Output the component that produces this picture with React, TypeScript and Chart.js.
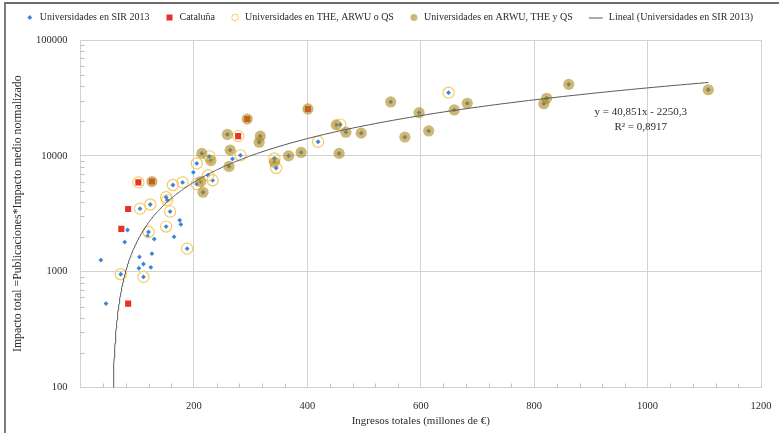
import React, { useEffect, useRef } from 'react';
import { Chart, registerables } from 'chart.js';

Chart.register(...registerables);

// ---------- Data ----------
const legendLabels = [
  'Universidades en SIR 2013',
  'Cataluña',
  'Universidades en THE, ARWU o QS',
  'Universidades en ARWU, THE y QS',
  'Lineal (Universidades en SIR 2013)',
];

// SIR-only universities (blue markers, not in rankings)
const sirOnlyX = [199, 268, 175, 177, 83, 118, 130, 78, 165, 36, 104, 126, 111, 124, 103, 45];
const sirOnlyY = [7200, 9400, 2780, 2560, 2290, 2030, 1910, 1800, 2000, 1260, 1340, 1430, 1165, 1090, 1070, 530];

// Universities in THE, ARWU or QS (open rings)
const ringX = [102, 163, 180, 151, 153, 105, 123, 158, 151, 120, 188, 71, 111, 205, 227, 282, 278, 342, 345, 225, 233, 205, 419, 458, 649];
const ringY = [5900, 5600, 5900, 4400, 4150, 3500, 3800, 3300, 2450, 2200, 1580, 950, 900, 8600, 9900, 10100, 14800, 9500, 7850, 6800, 6150, 5700, 13200, 18600, 35100];

// Universities in ARWU, THE and QS (filled tan circles)
const tanX = [126, 294, 401, 259, 317, 315, 264, 214, 230, 262, 342, 367, 389, 212, 216, 451, 468, 495, 456, 547, 572, 597, 614, 659, 682, 822, 817, 861, 1107];
const tanY = [6000, 20800, 25400, 15300, 14800, 13100, 11200, 10500, 9100, 8100, 8800, 10000, 10700, 6000, 4850, 18500, 16000, 15700, 10500, 29200, 14500, 23600, 16400, 24900, 28400, 31400, 28200, 41400, 37200];

// Cataluña (red squares)
const catX = [84, 72, 84, 102, 126, 278, 294, 401];
const catY = [3480, 2340, 530, 5900, 6000, 14800, 20800, 25400];

// Linear trendline printed on the chart
const TREND_SLOPE = 40.851;
const TREND_INTERCEPT = -2250.3;
const TREND_X_START = 55.5;
const TREND_X_END = 1107;
const trendLabelLines = ['y = 40,851x - 2250,3', 'R² = 0,8917'];
const TREND_LABEL_X = 988;
const TREND_LABEL_Y = 24000;

const xTickValues = [0, 200, 400, 600, 800, 1000, 1200];
const yTickValues = [100, 1000, 10000, 100000];

// ---------- Styles ----------
const FONT = '"Liberation Serif", "Times New Roman", serif';
const BLUE = '#3a86d6';
const RED = '#e8312a';
const RING = '#f6cb66';
const TAN = 'rgba(168,132,20,0.58)';
const LINE = '#5a5a5a';
const GRID = '#d2d2d2';
const TEXT = '#2b2b2b';

const toPts = (xs: number[], ys: number[]) => xs.map((x, i) => ({ x, y: ys[i] }));

function buildTrend() {
  const pts: { x: number; y: number }[] = [];
  let x = TREND_X_START;
  while (x < TREND_X_END) {
    pts.push({ x, y: TREND_SLOPE * x + TREND_INTERCEPT });
    x += x < 120 ? 0.5 : x < 300 ? 2 : 10;
  }
  pts.push({ x: TREND_X_END, y: TREND_SLOPE * TREND_X_END + TREND_INTERCEPT });
  return pts;
}

function drawMarker(ctx: CanvasRenderingContext2D, idx: number, cx: number, cy: number) {
  ctx.save();
  if (idx === 0) {
    const r = 2.4;
    ctx.fillStyle = BLUE;
    ctx.beginPath();
    ctx.moveTo(cx, cy - r);
    ctx.lineTo(cx + r, cy);
    ctx.lineTo(cx, cy + r);
    ctx.lineTo(cx - r, cy);
    ctx.closePath();
    ctx.fill();
  } else if (idx === 1) {
    ctx.fillStyle = RED;
    ctx.fillRect(cx - 3, cy - 3, 6, 6);
  } else if (idx === 2) {
    ctx.strokeStyle = RING;
    ctx.lineWidth = 1;
    ctx.beginPath();
    ctx.arc(cx, cy, 3.3, 0, Math.PI * 2);
    ctx.stroke();
  } else if (idx === 3) {
    ctx.fillStyle = TAN;
    ctx.beginPath();
    ctx.arc(cx, cy, 3.5, 0, Math.PI * 2);
    ctx.fill();
  } else {
    ctx.strokeStyle = LINE;
    ctx.lineWidth = 1;
    ctx.beginPath();
    ctx.moveTo(cx - 7, cy + 0.5);
    ctx.lineTo(cx + 7, cy + 0.5);
    ctx.stroke();
  }
  ctx.restore();
}

const customPlugin = {
  id: 'customDecor',
  beforeDatasetsDraw(chart: any) {
    const { ctx, chartArea, scales } = chart;
    const xs = scales.x;
    const ys = scales.y;
    ctx.save();
    ctx.strokeStyle = '#bdbdbd';
    ctx.lineWidth = 1;
    ctx.beginPath();
    for (let v = 40; v < xs.max; v += 40) {
      if (v % 200 === 0) continue;
      const px = Math.round(xs.getPixelForValue(v)) + 0.5;
      ctx.moveTo(px, chartArea.bottom);
      ctx.lineTo(px, chartArea.bottom - 4);
    }
    for (let d = ys.min; d < ys.max; d *= 10) {
      for (let k = 2; k <= 9; k++) {
        const py = Math.round(ys.getPixelForValue(k * d)) + 0.5;
        ctx.moveTo(chartArea.left, py);
        ctx.lineTo(chartArea.left + 4, py);
      }
    }
    ctx.stroke();
    ctx.restore();
  },
  afterDraw(chart: any) {
    const { ctx, scales } = chart;
    ctx.save();
    // Trendline equation
    ctx.font = `11px ${FONT}`;
    ctx.fillStyle = TEXT;
    ctx.textAlign = 'center';
    ctx.textBaseline = 'middle';
    const ax = scales.x.getPixelForValue(TREND_LABEL_X);
    const ay = scales.y.getPixelForValue(TREND_LABEL_Y);
    trendLabelLines.forEach((t, i) => ctx.fillText(t, ax, ay + i * 15));

    // Legend
    ctx.font = `10px ${FONT}`;
    ctx.textAlign = 'left';
    const markerW = [8, 8, 8, 8, 14];
    const gapMT = 6;
    const gapItems = 16;
    const widths = legendLabels.map((l) => ctx.measureText(l).width);
    const total =
      widths.reduce((a, w, i) => a + markerW[i] + gapMT + w, 0) + gapItems * (legendLabels.length - 1);
    let x = (chart.width - total) / 2;
    const y = 17.5;
    legendLabels.forEach((l, i) => {
      drawMarker(ctx, i, x + markerW[i] / 2, y);
      x += markerW[i] + gapMT;
      ctx.fillText(l, x, y);
      x += widths[i] + gapItems;
    });
    ctx.restore();
  },
};

export default function App() {
  const ref = useRef<HTMLCanvasElement | null>(null);

  useEffect(() => {
    if (!ref.current) return;
    const sirPts = [
      ...toPts(sirOnlyX, sirOnlyY),
      ...toPts(ringX, ringY),
      ...toPts(tanX, tanY),
      ...toPts(catX, catY),
    ];
    const chart = new Chart(ref.current, {
      type: 'scatter',
      data: {
        datasets: [
          {
            label: legendLabels[0],
            data: sirPts,
            pointStyle: 'rectRot',
            pointRadius: 2.4,
            pointBorderWidth: 0,
            backgroundColor: BLUE,
            borderColor: BLUE,
            order: 5,
          },
          {
            label: legendLabels[1],
            data: toPts(catX, catY),
            pointStyle: 'rect',
            pointRadius: 4.3,
            pointBorderWidth: 0,
            backgroundColor: RED,
            borderColor: RED,
            order: 4,
          },
          {
            label: legendLabels[2],
            data: toPts(ringX, ringY),
            pointStyle: 'circle',
            pointRadius: 5.6,
            pointBorderWidth: 1.2,
            backgroundColor: 'rgba(0,0,0,0)',
            borderColor: RING,
            order: 3,
          },
          {
            label: legendLabels[3],
            data: toPts(tanX, tanY),
            pointStyle: 'circle',
            pointRadius: 5.6,
            pointBorderWidth: 0,
            backgroundColor: TAN,
            borderColor: TAN,
            order: 2,
          },
          {
            label: legendLabels[4],
            data: buildTrend(),
            showLine: true,
            pointRadius: 0,
            borderColor: LINE,
            borderWidth: 1,
            backgroundColor: LINE,
            tension: 0,
            order: 1,
          } as any,
        ],
      },
      options: {
        responsive: false,
        animation: false,
        devicePixelRatio: 1,
        events: [],
        layout: { padding: { top: 40, right: 18, bottom: 0, left: 0 } },
        plugins: {
          legend: { display: false },
          tooltip: { enabled: false },
        },
        scales: {
          x: {
            type: 'linear',
            min: 0,
            max: 1200,
            afterBuildTicks: (scale: any) => {
              scale.ticks = xTickValues.map((v) => ({ value: v }));
            },
            afterFit: (scale: any) => {
              scale.height = 45.5;
              scale.paddingRight = 0;
              scale.paddingLeft = 0;
            },
            ticks: {
              padding: 12,
              maxRotation: 0,
              autoSkip: false,
              color: TEXT,
              font: { family: FONT, size: 10.5 },
              callback: (v: any) => (Number(v) === 0 ? '' : String(v)),
            },
            grid: { color: GRID, lineWidth: 1, drawTicks: false },
            border: { color: GRID, width: 1 },
            title: {
              display: true,
              text: 'Ingresos totales (millones de €)',
              color: TEXT,
              font: { family: FONT, size: 11 },
              padding: { top: 0, bottom: 5.4 },
            },
          },
          y: {
            type: 'logarithmic',
            min: 100,
            max: 100000,
            afterBuildTicks: (scale: any) => {
              scale.ticks = yTickValues.map((v) => ({ value: v }));
            },
            afterFit: (scale: any) => {
              scale.width = 80.5;
            },
            ticks: {
              padding: 13,
              autoSkip: false,
              color: TEXT,
              font: { family: FONT, size: 10.5 },
              callback: (v: any) => String(v),
            },
            grid: { color: GRID, lineWidth: 1, drawTicks: false },
            border: { color: GRID, width: 1 },
            title: {
              display: true,
              text: 'Impacto total =Publicaciones*Impacto medio normalizado',
              color: TEXT,
              font: { family: FONT, size: 11.8 },
              padding: { top: 11, bottom: 0 },
            },
          },
        },
      },
      plugins: [customPlugin],
    });
    return () => chart.destroy();
  }, []);

  return (
    <div
      style={{
        position: 'fixed',
        left: 0,
        top: 0,
        width: 779,
        height: 433,
        background: '#ffffff',
        overflow: 'hidden',
      }}
    >
      <div
        style={{
          position: 'absolute',
          left: 4,
          top: 2,
          width: 900,
          height: 600,
          borderLeft: '2px solid #7d7d7d',
          borderTop: '2px solid #6d6d6d',
        }}
      />
      <canvas ref={ref} width={779} height={433} style={{ position: 'absolute', left: 0, top: 0 }} />
    </div>
  );
}
